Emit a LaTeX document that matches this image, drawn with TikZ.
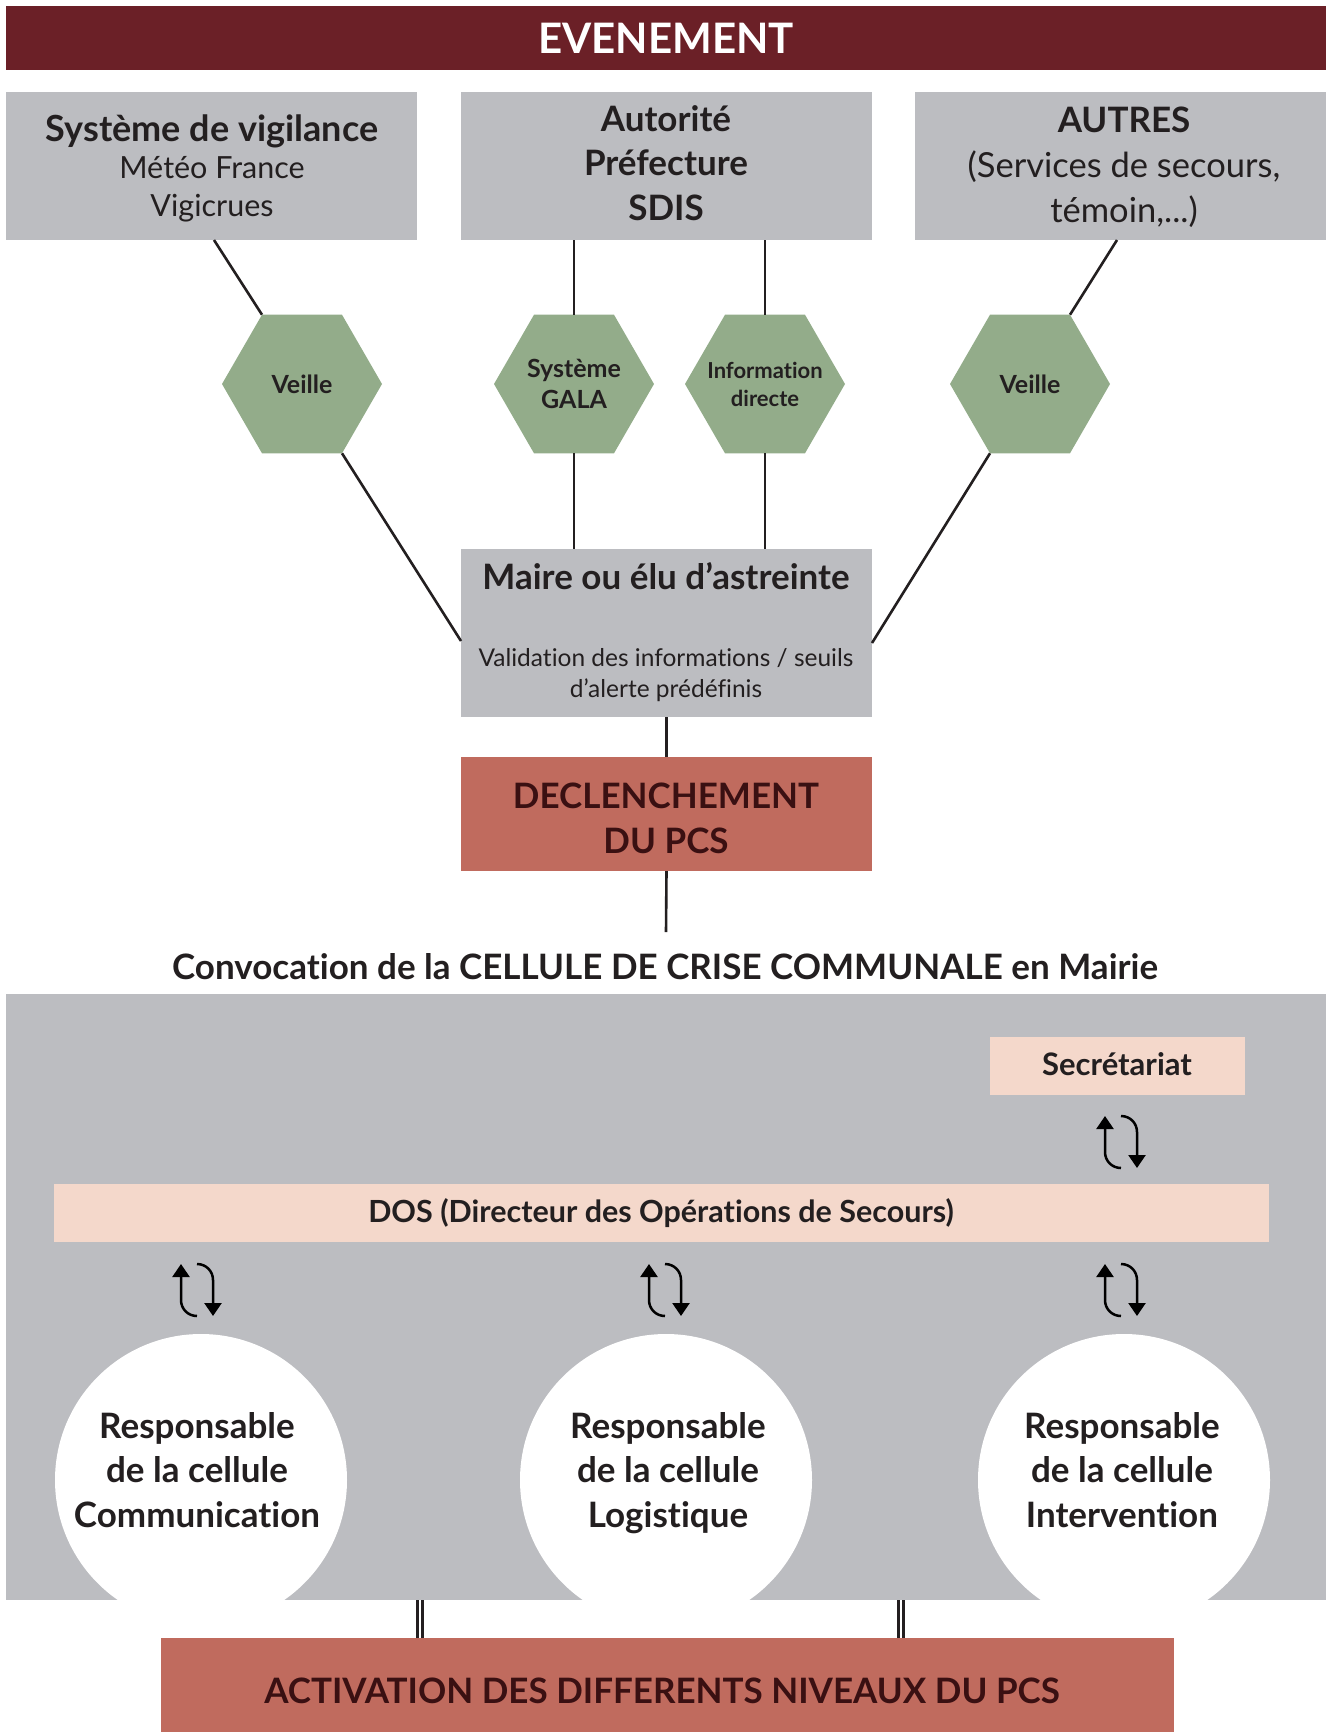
\documentclass[tikz,border=0pt]{standalone}
\usepackage{fontspec}
\setmainfont{Lato}[Ligatures=NoCommon]
\usetikzlibrary{shapes.geometric,arrows.meta,calc}
\definecolor{cbord}{HTML}{6B2027}
\definecolor{cgray}{HTML}{BCBDC1}
\definecolor{cgreen}{HTML}{93AC8A}
\definecolor{cbrick}{HTML}{C06B5E}
\definecolor{cpink}{HTML}{F4D8CB}
\definecolor{cink}{HTML}{231F20}
\definecolor{cbrun}{HTML}{3A1012}
\newcommand\setfs[2]{\fontsize{#1pt}{#2pt}\selectfont}
\begin{document}
\begin{tikzpicture}[x=1pt,y=-1pt,
  gbox/.style={fill=cgray, inner sep=0pt, outer sep=0pt, minimum width=411pt},
  rbox/.style={fill=cbrick, inner sep=0pt, outer sep=0pt},
  pbox/.style={fill=cpink, inner sep=0pt, outer sep=0pt, minimum height=58pt},
  txt/.style={inner sep=0pt, anchor=base, text=cink},
  hd/.style={txt, font=\bfseries\setfs{35}{40}},
  hexa/.style={regular polygon, regular polygon sides=6, minimum size=160pt,
    fill=cgreen, inner sep=0pt, outer sep=0pt},
  htxt/.style={inner sep=0pt, text=cink, align=center},
  conn/.style={draw=cink, line width=2.6pt},
  dbl/.style={draw=cink, line width=2.9pt, double=white, double distance=1.6pt},
  circ/.style={circle, fill=white, minimum size=292pt, inner sep=0pt, outer sep=0pt},
  ctxt/.style={txt, font=\bfseries\setfs{35}{40}},
  echange/.pic={
    \draw[line width=2.5pt, -{Triangle[length=13pt,width=17pt]}]
      (0,26) .. controls (-9,26) and (-16,19) .. (-16,10) -- (-16,-26);
    \draw[line width=2.5pt, -{Triangle[length=13pt,width=17pt]}]
      (0,-26) .. controls (9,-26) and (16,-19) .. (16,-10) -- (16,26);
  }
]
\useasboundingbox (0,0) rectangle (1328,1732);

% banner
\node[fill=cbord, minimum width=1320pt, minimum height=64pt, inner sep=0pt] (ev) at (666,38) {};
\node[txt, text=white, font=\bfseries\setfs{42}{48}] (evt) at (666,53) {EVENEMENT};

% top boxes
\node[gbox, minimum height=148pt] (b1) at (211.5,166) {};
\node[gbox, minimum height=148pt] (b2) at (666.5,166) {};
\node[gbox, minimum height=148pt] (b3) at (1120.5,166) {};
\node[txt, font=\bfseries\setfs{36}{40}] (b1a) at (212,141) {Système de vigilance};
\node[txt, font=\setfs{30.5}{34}] (b1b) at (212,178) {Météo France};
\node[txt, font=\setfs{30.5}{34}] (b1c) at (212,216) {Vigicrues};
\node[hd]  (b2a) at (666,131) {Autorité};
\node[hd]  (b2b) at (666,175) {Préfecture};
\node[hd]  (b2c) at (666,220) {SDIS};
\node[hd]  (b3a) at (1124,132) {AUTRES};
\node[txt, font=\setfs{34.5}{40}] (b3b) at (1124,177) {(Services de secours,};
\node[txt, font=\setfs{34.5}{40}] (b3c) at (1124,222) {témoin,...)};

% hexagons
\node[hexa] (h1) at (302,384) {};
\node[hexa] (h2) at (574,384) {};
\node[hexa] (h3) at (765,384) {};
\node[hexa] (h4) at (1030,384) {};
\node[htxt, font=\bfseries\setfs{25}{31}] (h1t) at (h1) {Veille};
\node[htxt, font=\bfseries\setfs{25}{31}] (h2t) at (h2) {Système\\GALA};
\node[htxt, font=\bfseries\setfs{22}{28}] (h3t) at (h3) {Information\\directe};
\node[htxt, font=\bfseries\setfs{25}{31}] (h4t) at (h4) {Veille};

% maire
\node[gbox, minimum height=168pt] (m) at (666.5,633) {};
\node[txt, font=\bfseries\setfs{35}{40}] (ma) at (666,589) {Maire ou élu d’astreinte};
\node[txt, font=\setfs{24.5}{30}] (mb) at (666,666) {Validation des informations / seuils};
\node[txt, font=\setfs{24.5}{30}] (mc) at (666,697) {d’alerte prédéfinis};

% declenchement
\node[rbox, minimum width=411pt, minimum height=114pt] (d) at (666.5,814) {};
\node[txt, text=cbrun, font=\bfseries\setfs{35}{40}] (da) at (666,808) {DECLENCHEMENT};
\node[txt, text=cbrun, font=\bfseries\setfs{35}{40}] (db) at (666,853) {DU PCS};

% connectors top
\draw[conn] ($(b1.south west)+(208,0)$) -- (h1.120);
\draw[conn] (h1.-60) -- ($(m.west)+(0,8)$);
\draw[conn] (b2.south -| h2.north) -- (h2.north);
\draw[conn] (h2.south) -- (m.north -| h2.south);
\draw[conn] (b2.south -| h3.north) -- (h3.north);
\draw[conn] (h3.south) -- (m.north -| h3.south);
\draw[conn] ($(b3.south west)+(202,0)$) -- (h4.60);
\draw[conn] (h4.-120) -- ($(m.east)+(0,10)$);
\draw[conn] (m.south) -- (d.north);
\coordinate (cv) at (666,932);
\draw[conn] (d.south) -- (cv);

\node[txt, font=\bfseries\setfs{35}{40}] (conv) at (665,979) {Convocation de la CELLULE DE CRISE COMMUNALE en Mairie};

% panel
\node[fill=cgray, minimum width=1320pt, minimum height=606pt, inner sep=0pt, outer sep=0pt] (panel) at (666,1297) {};
\node[pbox, minimum width=255pt] (sec) at (1117.5,1066) {};
\node[txt, font=\bfseries\setfs{31}{36}] (sect) at (1117,1075) {Secrétariat};
\node[pbox, minimum width=1215pt] (dos) at (661.5,1213) {};
\node[txt, font=\bfseries\setfs{30.5}{36}] (dost) at (661,1222) {DOS (Directeur des Opérations de Secours)};

\pic at (1121,1142) {echange};
\pic at (197,1290) {echange};
\pic at (665,1290) {echange};
\pic at (1121,1290) {echange};

\begin{scope}
  \clip (panel.north west) rectangle (panel.south east);
  \node[circ] (c1) at (201,1480) {};
  \node[circ] (c2) at (666,1480) {};
  \node[circ] (c3) at (1124,1480) {};
\end{scope}
\node[ctxt] (c1a) at (197,1438) {Responsable};
\node[ctxt] (c1b) at (197,1482) {de la cellule};
\node[ctxt] (c1c) at (197,1527) {Communication};
\node[ctxt] (c2a) at (668,1438) {Responsable};
\node[ctxt] (c2b) at (668,1482) {de la cellule};
\node[ctxt] (c2c) at (668,1527) {Logistique};
\node[ctxt] (c3a) at (1122,1438) {Responsable};
\node[ctxt] (c3b) at (1122,1482) {de la cellule};
\node[ctxt] (c3c) at (1122,1527) {Intervention};

% activation
\node[rbox, minimum width=1013pt, minimum height=94pt] (act) at (667.5,1685) {};
\node[txt, text=cbrun, font=\bfseries\setfs{35}{40}] (actt) at (662,1703) {ACTIVATION DES DIFFERENTS NIVEAUX DU PCS};
\coordinate (a1) at ($(act.north west)+(259,0)$);
\coordinate (a2) at ($(act.north west)+(740,0)$);
\draw[dbl] (a1) -- (a1 |- panel.south);
\draw[dbl] (a2) -- (a2 |- panel.south);
\end{tikzpicture}
\end{document}
